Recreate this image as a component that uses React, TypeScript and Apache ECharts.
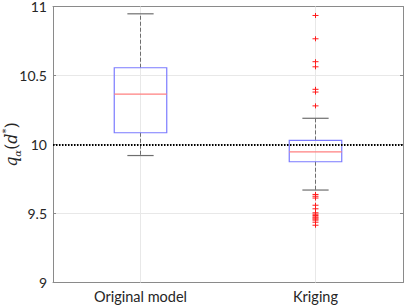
import React, { useEffect, useRef } from "react";
import * as echarts from "echarts";

const categories = ["Original model", "Kriging"];
const lowerWhisker = [9.92, 9.67];
const q1 = [10.085, 9.875];
const median = [10.365, 9.947];
const q3 = [10.556, 10.03];
const upperWhisker = [10.947, 10.19];
const krigingOutliers = [
  10.935, 10.766, 10.6, 10.563, 10.4, 10.38, 10.28,
  9.638, 9.625, 9.612, 9.56, 9.534, 9.505, 9.495, 9.485, 9.475, 9.468, 9.46, 9.452, 9.437, 9.415,
];
const yTicks = [9, 9.5, 10, 10.5, 11];
const referenceValue = 10;

export default function App() {
  const ref = useRef<HTMLDivElement>(null);
  useEffect(() => {
    if (!ref.current) return;
    const chart = echarts.init(ref.current, undefined, { renderer: "svg" });
    const boxData = categories.map((_, i) => [i, lowerWhisker[i], q1[i], median[i], q3[i], upperWhisker[i]]);
    const outlierData = krigingOutliers.map((v) => [1, v]);
    const font = "Lato, 'Open Sans', sans-serif";
    const serif = "'DejaVu Serif', serif";
    chart.setOption({
      animation: false,
      grid: { left: 53, right: 4, top: 6.5, bottom: 22.5, containLabel: false, outerBoundsMode: "none" },
      graphic: [
        {
          type: "text",
          x: 11,
          y: 144.5,
          rotation: Math.PI / 2,
          silent: true,
          style: {
            text: "{q|q}{a|α}{p|(}{d|d}{s|*}{p|)}",
            align: "center",
            verticalAlign: "middle",
            rich: {
              q: { fontFamily: serif, fontStyle: "italic", fontSize: 16, lineHeight: 22, fill: "#262626" },
              a: { fontFamily: serif, fontStyle: "italic", fontSize: 10, lineHeight: 22, fill: "#262626", verticalAlign: "bottom" },
              p: { fontFamily: serif, fontSize: 16, lineHeight: 22, fill: "#262626" },
              d: { fontFamily: serif, fontStyle: "italic", fontSize: 16, lineHeight: 22, fill: "#262626" },
              s: { fontFamily: serif, fontSize: 10, lineHeight: 22, fill: "#262626", verticalAlign: "top" },
            },
          },
        },
      ],
      xAxis: [
        {
          type: "category",
          data: categories,
          boundaryGap: true,
          axisLine: { lineStyle: { color: "#8a8a8a", width: 1 } },
          axisTick: { inside: true, alignWithLabel: true, length: 3, lineStyle: { color: "#8a8a8a" } },
          axisLabel: { color: "#262626", fontFamily: font, fontSize: 14.5, margin: 6 },
          splitLine: { show: false },
        },
        {
          type: "category",
          data: categories,
          position: "top",
          boundaryGap: true,
          axisLine: { lineStyle: { color: "#8a8a8a", width: 1 } },
          axisTick: { inside: true, alignWithLabel: true, length: 3, lineStyle: { color: "#8a8a8a" } },
          axisLabel: { show: false },
        },
      ],
      yAxis: [
        {
          type: "value",
          min: 9,
          max: 11,
          interval: 0.5,
          axisLine: { show: true, lineStyle: { color: "#8a8a8a", width: 1 } },
          axisTick: { show: true, inside: true, length: 3, lineStyle: { color: "#8a8a8a" } },
          axisLabel: {
            color: "#262626",
            fontFamily: font,
            fontSize: 14,
            lineHeight: 12,
            margin: 6,
            formatter: (v: number) => (yTicks.includes(v) ? String(v) : ""),
          },
          splitLine: { show: true, lineStyle: { color: "#e8e8e8", width: 1 } },
        },
        {
          type: "value",
          min: 9,
          max: 11,
          interval: 0.5,
          position: "right",
          axisLine: { show: true, lineStyle: { color: "#8a8a8a", width: 1 } },
          axisTick: { show: true, inside: true, length: 3, lineStyle: { color: "#8a8a8a" } },
          axisLabel: { show: false },
          splitLine: { show: false },
        },
      ],
      series: [
        {
          type: "custom",
          name: "boxes",
          xAxisIndex: 0,
          yAxisIndex: 0,
          data: boxData,
          z: 3,
          renderItem: (params: any, api: any) => {
            const idx = api.value(0);
            const band = api.size([1, 0])[0];
            const bw = band * 0.15;
            const cw = band * 0.075;
            const yLo = api.coord([idx, api.value(1)]);
            const yQ1 = api.coord([idx, api.value(2)])[1];
            const yMed = api.coord([idx, api.value(3)])[1];
            const yQ3 = api.coord([idx, api.value(4)])[1];
            const yHi = api.coord([idx, api.value(5)])[1];
            const cx = yLo[0];
            const whiskerStyle = { stroke: "#6e6e6e", lineWidth: 1, lineDash: [4, 2] };
            const capStyle = { stroke: "#6e6e6e", lineWidth: 1.2 };
            return {
              type: "group",
              children: [
                { type: "line", shape: { x1: cx, y1: yQ3, x2: cx, y2: yHi }, style: whiskerStyle },
                { type: "line", shape: { x1: cx, y1: yQ1, x2: cx, y2: yLo[1] }, style: whiskerStyle },
                { type: "line", shape: { x1: cx - cw, y1: yHi, x2: cx + cw, y2: yHi }, style: capStyle },
                { type: "line", shape: { x1: cx - cw, y1: yLo[1], x2: cx + cw, y2: yLo[1] }, style: capStyle },
                {
                  type: "rect",
                  shape: { x: cx - bw, y: yQ3, width: 2 * bw, height: yQ1 - yQ3 },
                  style: { fill: "none", stroke: "#7b7bff", lineWidth: 1.2 },
                },
                { type: "line", shape: { x1: cx - bw, y1: yMed, x2: cx + bw, y2: yMed }, style: { stroke: "#ff8080", lineWidth: 1.2 } },
              ],
            };
          },
          markLine: {
            silent: true,
            symbol: "none",
            label: { show: false },
            animation: false,
            lineStyle: { color: "#e8e8e8", width: 1, type: "solid" },
            data: [{ xAxis: 0 }, { xAxis: 1 }],
            z: 1,
          },
        },
        {
          type: "custom",
          name: "outliers",
          xAxisIndex: 0,
          yAxisIndex: 0,
          data: outlierData,
          z: 4,
          renderItem: (params: any, api: any) => {
            const p = api.coord([api.value(0), api.value(1)]);
            const st = { stroke: "#ff1a1a", lineWidth: 1 };
            return {
              type: "group",
              children: [
                { type: "line", shape: { x1: p[0] - 3, y1: p[1], x2: p[0] + 3, y2: p[1] }, style: st },
                { type: "line", shape: { x1: p[0], y1: p[1] - 2.5, x2: p[0], y2: p[1] + 2.5 }, style: st },
              ],
            };
          },
        },
        {
          type: "line",
          name: "ref",
          data: [],
          markLine: {
            silent: true,
            symbol: "none",
            label: { show: false },
            animation: false,
            lineStyle: { color: "#000000", width: 2, type: [1.5, 1.5] },
            data: [{ yAxis: referenceValue }],
          },
          z: 5,
        },
      ],
    });
    return () => chart.dispose();
  }, []);
  return <div ref={ref} style={{ width: 407, height: 305, position: "absolute", left: 0, top: 0 }} />;
}
